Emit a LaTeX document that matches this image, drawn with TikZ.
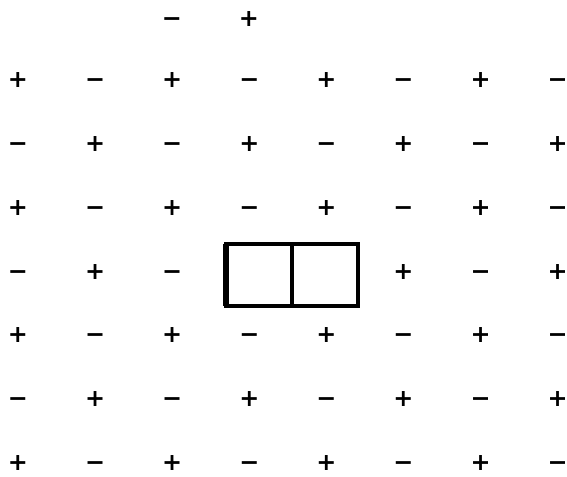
\documentclass[tikz,border=0pt]{standalone}
\usepackage{fontspec}
\setmainfont{DejaVu Sans}
\usepackage{tikz}
\usetikzlibrary{positioning}

\begin{document}
\begin{tikzpicture}[
    sign/.style={inner sep=0pt, anchor=base, yshift=-6.2pt,
                 font=\fontsize{17}{17}\selectfont\bfseries},
    cell/.style={draw, line width=2.4pt, outer sep=0pt, inner sep=0pt,
                 minimum width=1.65cm, minimum height=1.55cm},
    x=0.025cm, y=-0.025cm
]
    \useasboundingbox (0,0) rectangle (567,476);

    % the two signs above the grid
    \node[sign] (s-0-2) at (172,18) {−};
    \node[sign] (s-0-3) at (249,18) {+};

    % alternating signs, rows 1 to 7
    \foreach \r in {1,...,7} {
        \foreach \c in {0,...,7} {
            \pgfmathtruncatemacro{\odd}{mod(\r+\c,2)}
            \pgfmathtruncatemacro{\hole}{(\r==4)&&(\c>2)&&(\c<5)}
            \ifnum\hole=0
                \ifnum\odd=1
                    \node[sign] (s-\r-\c) at ({18+77.1*\c},{79+63.8*(\r-1)}) {+};
                \else
                    \node[sign] (s-\r-\c) at ({18+77.1*\c},{79+63.8*(\r-1)}) {−};
                \fi
            \fi
        }
    }

    % the domino
    \node[cell] (lsq) at (259,275) {};
    \node[cell, right=0pt of lsq] (rsq) {};
    \draw[line width=4pt] (lsq.north west) -- (lsq.south west);
    \draw[line width=3.2pt] (lsq.north east) -- (lsq.south east);
\end{tikzpicture}
\end{document}
